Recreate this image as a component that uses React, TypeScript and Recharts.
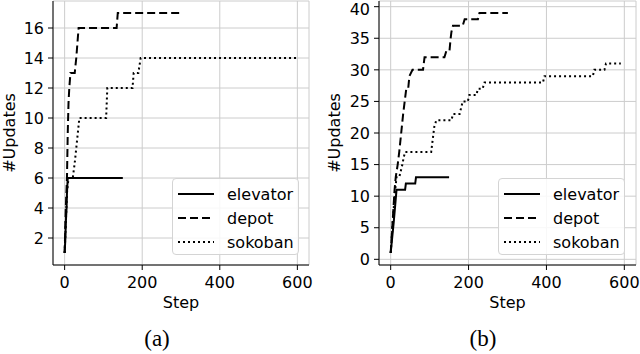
import { LineChart, Line, XAxis, YAxis, CartesianGrid, Legend } from 'recharts';

type Pt = [number, number];

// [step, #updates]
const elevatorA: Pt[] = [[0, 1], [2, 2], [3, 3], [5, 4], [6, 5], [8, 6], [150, 6]];
const depotA: Pt[] = [
  [0, 1], [3, 4], [6, 6], [8, 9], [10, 11], [12, 12], [15, 13], [26, 13], [30, 14], [36, 16],
  [134, 16], [137, 17], [300, 17],
];
const sokobanA: Pt[] = [
  [0, 1], [6, 5], [10, 6], [21, 6], [26, 7], [30, 8], [34, 9], [38, 10], [107, 10], [110, 12],
  [175, 12], [178, 13], [190, 13], [196, 14], [600, 14],
];

const elevatorB: Pt[] = [[0, 1], [8, 6], [15, 11], [37, 11], [39, 12], [63, 12], [65, 13], [150, 13]];
const depotB: Pt[] = [
  [0, 1], [5, 6], [10, 11], [13, 13], [18, 15], [22, 17], [27, 20], [32, 23], [36, 25], [40, 27],
  [45, 27], [48, 29], [56, 30], [83, 30], [87, 32], [138, 32], [143, 33], [151, 33], [154, 35],
  [156, 36], [160, 37], [185, 37], [190, 38], [224, 38], [228, 39], [301, 39],
];
const sokobanB: Pt[] = [
  [0, 1], [10, 10], [15, 13], [22, 13], [26, 14], [30, 15], [33, 16], [37, 17], [104, 17], [108, 19],
  [112, 21], [117, 22], [156, 22], [160, 23], [177, 23], [181, 24], [185, 25], [198, 25], [202, 26],
  [220, 26], [224, 27], [236, 27], [241, 28], [391, 28], [395, 29], [519, 29], [523, 30], [549, 30],
  [553, 31], [591, 31],
];

const STEP_TICKS = [0, 200, 400, 600];
const UPDATE_TICKS_A = [2, 4, 6, 8, 10, 12, 14, 16];
const UPDATE_TICKS_B = [0, 5, 10, 15, 20, 25, 30, 35, 40];

const NAMES = ['elevator', 'depot', 'sokoban'];
const DASH: Record<string, string | undefined> = { elevator: undefined, depot: '8 4', sokoban: '2 3' };

const rows = (pts: Pt[]) => pts.map(([step, updates]) => ({ step, updates }));

function BoxLegend() {
  return (
    <div
      style={{
        width: 127,
        height: 77,
        border: '1px solid #d4d4d4',
        borderRadius: 4,
        background: 'rgba(255,255,255,0.85)',
        paddingTop: 3,
        boxSizing: 'border-box',
        fontSize: 16,
        color: '#000',
      }}
    >
      {NAMES.map((n) => (
        <div key={n} style={{ display: 'flex', alignItems: 'center', height: 24 }}>
          <svg width={36} height={4} style={{ marginLeft: 5, marginRight: 13 }}>
            <line x1={0} y1={2} x2={36} y2={2} stroke="#000" strokeWidth={2} strokeDasharray={DASH[n]} />
          </svg>
          <span>{n}</span>
        </div>
      ))}
    </div>
  );
}

interface PanelProps {
  series: Pt[][];
  yDomain: [number, number];
  yTicks: number[];
  yWidth: number;
  right: number;
  labelOffset: number;
  legendLeft: number;
}

function Panel({ series, yDomain, yTicks, yWidth, right, labelOffset, legendLeft }: PanelProps) {
  const tick = { fill: '#000', fontSize: 16 };
  return (
    <LineChart width={320} height={354} margin={{ top: 1, right, bottom: 0, left: 0 }}>
      <CartesianGrid stroke="#cccccc" strokeWidth={1} />
      <XAxis
        dataKey="step"
        type="number"
        domain={[-30, 630]}
        ticks={STEP_TICKS}
        allowDataOverflow
        height={89}
        tick={tick}
        tickSize={5}
        tickMargin={7}
        stroke="#000"
        label={{ value: 'Step', position: 'insideTop', offset: 32, fill: '#000', fontSize: 16 }}
      />
      <XAxis xAxisId="top" orientation="top" type="number" domain={[-30, 630]} height={0} tick={false} tickLine={false} stroke="#000" />
      <YAxis
        type="number"
        domain={yDomain}
        ticks={yTicks}
        allowDataOverflow
        width={yWidth}
        tick={tick}
        tickSize={5}
        tickMargin={4}
        stroke="#000"
        label={{
          value: '#Updates',
          angle: -90,
          position: 'insideLeft',
          offset: labelOffset,
          fill: '#000',
          fontSize: 16,
          style: { textAnchor: 'middle' },
        }}
      />
      <YAxis yAxisId="right" orientation="right" type="number" domain={yDomain} width={0} tick={false} tickLine={false} stroke="#000" />
      {series.map((s, i) => (
        <Line
          key={NAMES[i]}
          name={NAMES[i]}
          data={rows(s)}
          dataKey="updates"
          type="linear"
          stroke="#000"
          strokeWidth={2}
          strokeDasharray={DASH[NAMES[i]]}
          dot={false}
          isAnimationActive={false}
        />
      ))}
      <Legend
        layout="vertical"
        align="center"
        verticalAlign="middle"
        content={<BoxLegend />}
        wrapperStyle={{ left: legendLeft, top: 178, width: 127, height: 77 }}
      />
    </LineChart>
  );
}

export default function App() {
  return (
    <div
      style={{
        position: 'absolute',
        left: 0,
        top: 0,
        width: 640,
        height: 354,
        background: '#fff',
        fontFamily: '"DejaVu Sans", sans-serif',
      }}
    >
      <div style={{ position: 'absolute', left: 0, top: 0 }}>
        <Panel
          series={[elevatorA, depotA, sokobanA]}
          yDomain={[0.2, 17.8]}
          yTicks={UPDATE_TICKS_A}
          yWidth={53}
          right={11}
          labelOffset={9}
          legendLeft={172}
        />
      </div>
      <div style={{ position: 'absolute', left: 320, top: 0 }}>
        <Panel
          series={[elevatorB, depotB, sokobanB]}
          yDomain={[-0.9, 40.9]}
          yTicks={UPDATE_TICKS_B}
          yWidth={59}
          right={4}
          labelOffset={14}
          legendLeft={178}
        />
      </div>
      {['(a)', '(b)'].map((c, i) => (
        <div
          key={c}
          style={{
            position: 'absolute',
            left: (i === 0 ? 157 : 483) - 30,
            top: 327,
            width: 60,
            textAlign: 'center',
            fontFamily: '"Liberation Serif", serif',
            fontSize: 23,
            lineHeight: '23px',
          }}
        >
          {c}
        </div>
      ))}
    </div>
  );
}
